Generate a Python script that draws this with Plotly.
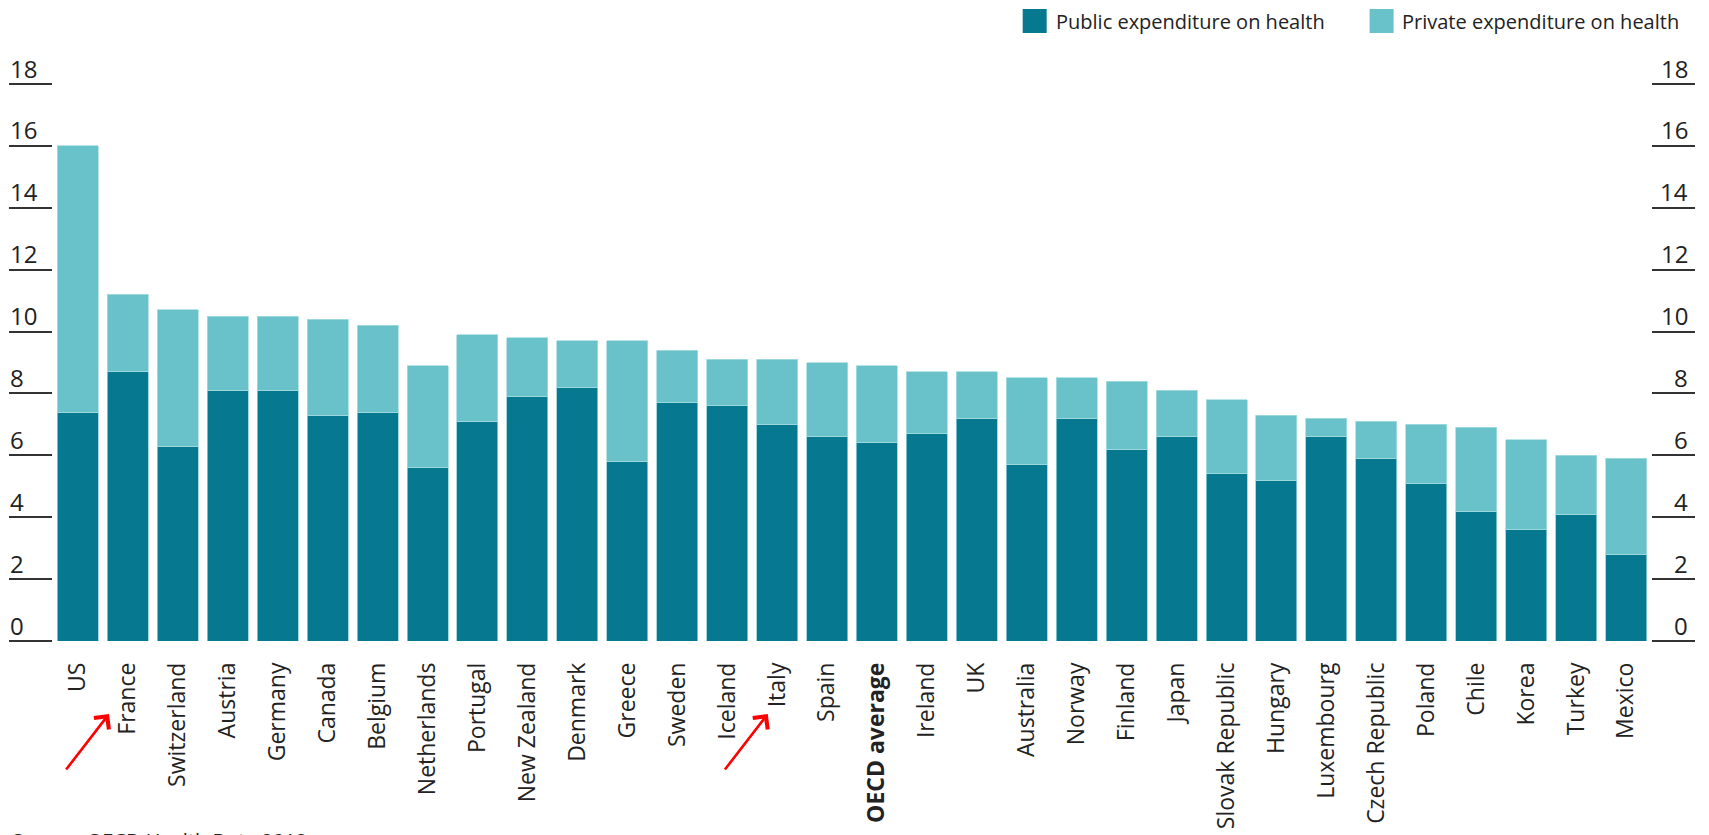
import plotly.graph_objects as go

countries = ["US", "France", "Switzerland", "Austria", "Germany", "Canada", "Belgium",
             "Netherlands", "Portugal", "New Zealand", "Denmark", "Greece", "Sweden",
             "Iceland", "Italy", "Spain", "OECD average", "Ireland", "UK", "Australia",
             "Norway", "Finland", "Japan", "Slovak Republic", "Hungary", "Luxembourg",
             "Czech Republic", "Poland", "Chile", "Korea", "Turkey", "Mexico"]
total = [16.0, 11.2, 10.7, 10.5, 10.5, 10.4, 10.2, 8.9, 9.9, 9.8, 9.7, 9.7, 9.4,
         9.1, 9.1, 9.0, 8.9, 8.7, 8.7, 8.5, 8.5, 8.4, 8.1, 7.8, 7.3, 7.2, 7.1, 7.0,
         6.9, 6.5, 6.0, 5.9]
public = [7.4, 8.7, 6.3, 8.1, 8.1, 7.3, 7.4, 5.6, 7.1, 7.9, 8.2, 5.8, 7.7,
          7.6, 7.0, 6.6, 6.4, 6.7, 7.2, 5.7, 7.2, 6.2, 6.6, 5.4, 5.2, 6.6, 5.9, 5.1,
          4.2, 3.6, 4.1, 2.8]
private = [round(t - p, 2) for t, p in zip(total, public)]
y_ticks = [0, 2, 4, 6, 8, 10, 12, 14, 16, 18]
highlight = "OECD average"
tick_text = [f"<b>{c}</b>" if c == highlight else c for c in countries]
legend_names = ["Public expenditure on health", "Private expenditure on health"]
source_text = "Source: OECD Health Data 2012"

DARK = "#06788f"
LIGHT = "#69c2c9"
INK = "#222222"
FONT = "Open Sans"

W, H = 1709, 835
OFF = 8  # default page margin of the html body
# plot area in page pixels: x 53..1651.5, y 84..641
L, T = 53 - OFF, 84 - OFF
R = W - (1651.5 - OFF)
B = H - (641 - OFF)
PW, PH = W - L - R, H - T - B


def px(x):
    return (x - OFF - L) / PW


def py(y):
    return 1 - (y - OFF - T) / PH


fig = go.Figure()
fig.add_trace(go.Bar(x=countries, y=public, name=legend_names[0], marker_color=DARK,
                     marker_line=dict(color="#8fd0d6", width=0.8), showlegend=False))
fig.add_trace(go.Bar(x=countries, y=private, name=legend_names[1], marker_color=LIGHT,
                     marker_line=dict(color="#a6dde1", width=0.8), showlegend=False))
# empty helper trace so the mirrored right-hand axis is drawn
fig.add_trace(go.Scatter(x=[], y=[], yaxis="y2", showlegend=False, hoverinfo="skip"))

ann = []
shapes = []
for v in y_ticks:
    ann.append(dict(x=px(8), y=v, xref="paper", yref="y", text=str(v), showarrow=False,
                    xanchor="left", yanchor="middle", yshift=16,
                    font=dict(family=FONT, size=24, color=INK)))
    ann.append(dict(x=px(1691), y=v, xref="paper", yref="y", text=str(v), showarrow=False,
                    xanchor="right", yanchor="middle", yshift=16,
                    font=dict(family=FONT, size=24, color=INK)))

# legend
for i, (sx, tx) in enumerate([(1023, 1054), (1370, 1400)]):
    shapes.append(dict(type="rect", xref="paper", yref="paper",
                       x0=px(sx), x1=px(sx + 24), y0=py(33), y1=py(9),
                       fillcolor=[DARK, LIGHT][i], line=dict(width=0)))
    ann.append(dict(x=px(tx), y=py(21), xref="paper", yref="paper", text=legend_names[i],
                    showarrow=False, xanchor="left", yanchor="middle",
                    font=dict(family=FONT, size=20, color=INK)))

# red arrows
for (hx, hy, tx, ty) in [(109, 714, 65, 771), (768, 714, 724, 771)]:
    ann.append(dict(x=px(hx), y=py(hy), xref="paper", yref="paper",
                    ax=tx - hx, ay=ty - hy, axref="pixel", ayref="pixel",
                    text="", showarrow=True, arrowhead=4, arrowsize=1.4, arrowwidth=2.6,
                    arrowcolor="#ff0000"))

# source (cut off at bottom, as in the reference)
ann.append(dict(x=px(10), y=py(825), xref="paper", yref="paper", text=source_text,
                showarrow=False, xanchor="left", yanchor="top",
                font=dict(family=FONT, size=20, color=INK)))

axis_common = dict(range=[0, 18], tickvals=y_ticks, ticks="outside", ticklen=43, tickwidth=2,
                   tickcolor="#333333", showticklabels=False, showgrid=False, zeroline=False,
                   showline=False, fixedrange=True)

fig.update_layout(
    width=W, height=H, barmode="stack", bargap=0.18,
    margin=dict(l=L, r=R, t=T, b=B, autoexpand=False),
    paper_bgcolor="white", plot_bgcolor="white",
    font=dict(family=FONT, color=INK),
    xaxis=dict(tickmode="array", tickvals=countries, ticktext=tick_text, tickangle=-90,
               tickfont=dict(family=FONT, size=23, color=INK), showgrid=False,
               showline=False, zeroline=False, ticks="", ticklabelstandoff=16,
               range=[-0.5, len(countries) - 0.5]),
    yaxis=dict(**axis_common),
    yaxis2=dict(**axis_common, overlaying="y", side="right", anchor="x"),
    annotations=ann, shapes=shapes,
)

fig.write_html("out.html")
